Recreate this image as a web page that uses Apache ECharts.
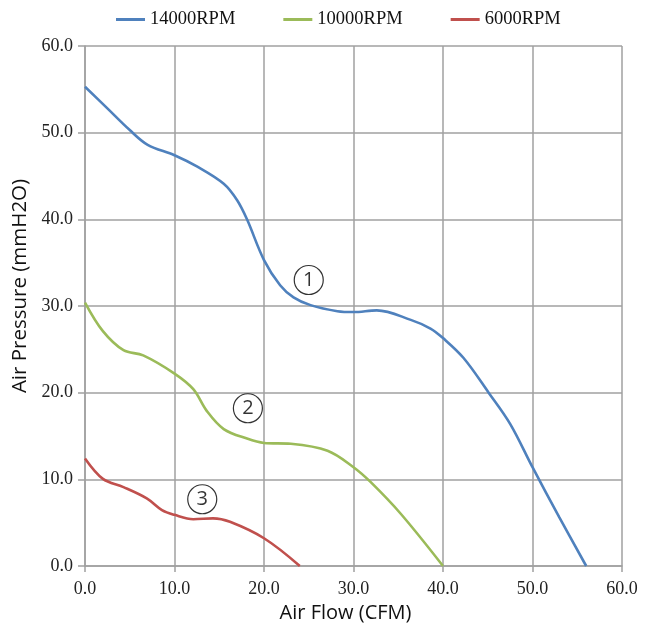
<!DOCTYPE html>
<html>
<head>
<meta charset="utf-8">
<script src="https://cdn.jsdelivr.net/npm/echarts@6/dist/echarts.min.js"></script>
<style>html,body{margin:0;padding:0;background:#fff;}#c{width:653px;height:626px;}</style>
</head>
<body>
<div id="c"></div>
<script>
var seriesNames = ['14000RPM', '10000RPM', '6000RPM'];
var rpm14000 = [[0,55.3],[2.5,52.8],[5,50.3],[7,48.6],[10,47.4],[12.5,46.1],[15.5,44.1],[17,42.2],[18.1,40],[20,35.3],[21.8,32.4],[23.3,31.0],[25.2,30.1],[28.2,29.4],[30,29.3],[32.6,29.5],[36.4,28.4],[38.6,27.4],[40,26.3],[42.3,24.0],[45.1,20.0],[47.5,16.4],[50,11.4],[53,5.6],[56,0]];
var rpm10000 = [[0,30.4],[2,27.1],[4.3,24.9],[6.5,24.3],[10,22.2],[12.1,20.4],[13.6,17.9],[15.5,15.8],[18.1,14.7],[20,14.2],[23,14.1],[27.1,13.3],[30,11.4],[31.9,9.7],[35.3,6.0],[40,0]];
var rpm6000 = [[0,12.4],[2,10.05],[4.3,9.1],[6.9,7.8],[8.6,6.45],[10,5.9],[12.1,5.4],[14.3,5.5],[16.2,5.1],[20,3.2],[24,0]];
var markerLabels = ['1', '2', '3'];
var markerPoints = [[25,33],[18.2,18.2],[13.1,7.7]];
var xTicks = [0,10,20,30,40,50,60];
var yTicks = [0,10,20,30,40,50,60];

var colors = ['#4F81BD', '#9BBB59', '#C0504D'];
var chart = echarts.init(document.getElementById('c'));
var lineSeries = [rpm14000, rpm10000, rpm6000].map(function(d, i){
  return {
    name: seriesNames[i], type: 'line', data: d, smooth: 0.35, showSymbol: false, symbol: 'none',
    lineStyle: {color: colors[i], width: 2.6}, itemStyle: {color: colors[i]}, z: 3
  };
});
lineSeries.push({
  type: 'scatter', name: 'markers', silent: true, z: 5,
  data: markerPoints.map(function(p, i){ return {value: p, label: {formatter: markerLabels[i]}}; }),
  symbol: 'circle', symbolSize: 29,
  itemStyle: {color: 'rgba(255,255,255,0)', borderColor: '#000', borderWidth: 1.2},
  label: {show: true, position: 'inside', color: '#000', fontFamily: 'Open Sans', fontSize: 20}
});
chart.setOption({
  animation: false,
  backgroundColor: '#fff',
  legend: {
    data: seriesNames, top: 5, left: 111, itemWidth: 29, itemHeight: 3, itemGap: 48,
    icon: 'rect',
    textStyle: {fontFamily: 'Liberation Serif', fontSize: 18.5, color: '#111'}
  },
  grid: {left: 85, right: 31, top: 46, bottom: 60, containLabel: false, outerBoundsMode: 'none'},
  xAxis: {
    type: 'value', min: xTicks[0], max: xTicks[xTicks.length-1], interval: 10,
    name: 'Air Flow (CFM)', nameLocation: 'middle', nameGap: 29,
    nameTextStyle: {fontFamily: 'Open Sans', fontSize: 20, color: '#111', padding: [0, 16, 0, 0]},
    axisLine: {show: true, lineStyle: {color: '#a0a0a0', width: 1.5}},
    axisTick: {show: true, inside: false, length: 6, lineStyle: {color: '#a0a0a0', width: 1.5}},
    axisLabel: {fontFamily: 'Liberation Serif', fontSize: 18, color: '#222', margin: 14, formatter: function(v){return v.toFixed(1);}},
    splitLine: {show: true, lineStyle: {color: '#a0a0a0', width: 1.5}}
  },
  yAxis: {
    type: 'value', min: yTicks[0], max: yTicks[yTicks.length-1], interval: 10,
    name: 'Air Pressure (mmH2O)', nameLocation: 'middle', nameGap: 49,
    nameTextStyle: {fontFamily: 'Open Sans', fontSize: 20.5, color: '#111', padding: [0, 0, 0, 40]},
    axisLine: {show: true, lineStyle: {color: '#a0a0a0', width: 1.5}},
    axisTick: {show: true, inside: false, length: 7, lineStyle: {color: '#a0a0a0', width: 1.5}},
    axisLabel: {fontFamily: 'Liberation Serif', fontSize: 18, color: '#222', margin: 12, formatter: function(v){return v.toFixed(1);}},
    splitLine: {show: true, lineStyle: {color: '#a0a0a0', width: 1.5}}
  },
  series: lineSeries
});
</script>
</body>
</html>
